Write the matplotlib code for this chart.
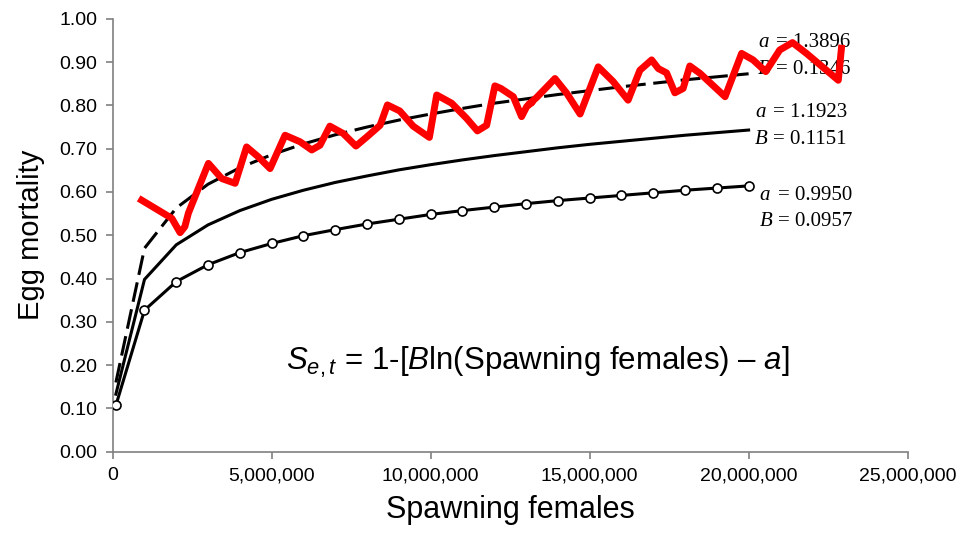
import matplotlib
matplotlib.use('Agg')
import matplotlib.pyplot as plt
import matplotlib.transforms as mtransforms
from matplotlib.ticker import FuncFormatter, MultipleLocator

plt.rcParams['font.family'] = ['Liberation Sans', 'DejaVu Sans']
plt.rcParams['mathtext.fontset'] = 'custom'
plt.rcParams['mathtext.rm'] = 'Liberation Sans'
plt.rcParams['mathtext.it'] = 'Liberation Sans:italic'

# fitted curves, spawning females in millions
fit_x = [0.1, 1, 2, 3, 4, 5, 6, 7, 8, 9, 10, 11, 12, 13, 14, 15, 16, 17, 18, 19, 20]
dashed_y = [0.160, 0.470, 0.563, 0.618, 0.656, 0.686, 0.711, 0.732, 0.750, 0.766, 0.780,
            0.793, 0.805, 0.815, 0.825, 0.834, 0.843, 0.851, 0.859, 0.866, 0.873]
solid_y = [0.133, 0.398, 0.478, 0.524, 0.557, 0.583, 0.604, 0.622, 0.637, 0.651, 0.663,
           0.674, 0.684, 0.693, 0.702, 0.710, 0.717, 0.724, 0.731, 0.737, 0.743]
circle_y = [0.107, 0.327, 0.393, 0.432, 0.460, 0.481, 0.499, 0.513, 0.526, 0.537, 0.548,
            0.557, 0.565, 0.573, 0.580, 0.586, 0.592, 0.598, 0.604, 0.609, 0.614]

# observed (red) series
red_x = [0.91, 1.59, 1.86, 2.12, 2.27, 2.38, 3.01, 3.43, 3.85, 4.21, 4.58, 4.95, 5.42, 5.89,
         6.26, 6.52, 6.83, 7.25, 7.65, 7.99, 8.41, 8.64, 9.03, 9.45, 9.96, 10.19, 10.66, 11.13,
         11.47, 11.76, 12.02, 12.21, 12.60, 12.86, 13.02, 13.20, 13.08, 13.33, 13.91, 14.28,
         14.70, 15.27, 15.74, 16.21, 16.58, 16.95, 17.16, 17.42, 17.68, 17.94, 18.15, 18.47,
         19.26, 19.78, 20.14, 20.54, 20.98, 21.38, 21.82, 22.82, 22.92]
red_y = [0.581, 0.551, 0.539, 0.506, 0.520, 0.551, 0.666, 0.631, 0.620, 0.704, 0.681, 0.654,
         0.731, 0.716, 0.697, 0.708, 0.752, 0.735, 0.706, 0.727, 0.754, 0.801, 0.787, 0.752,
         0.726, 0.824, 0.805, 0.770, 0.741, 0.754, 0.845, 0.839, 0.820, 0.774, 0.797, 0.808,
         0.802, 0.818, 0.862, 0.828, 0.780, 0.889, 0.855, 0.812, 0.881, 0.905, 0.885, 0.875,
         0.829, 0.839, 0.891, 0.874, 0.820, 0.920, 0.905, 0.878, 0.928, 0.945, 0.920, 0.858,
         0.932]

params = [('1.3896', '0.1346'), ('1.1923', '0.1151'), ('0.9950', '0.0957')]
param_pos = [(20.3, 0.945, 0.883), (20.2, 0.783, 0.722), (20.35, 0.592, 0.531)]

fig = plt.figure(figsize=(9.6, 5.41), dpi=100)
ax = fig.add_axes([0.1174, 0.165, 0.828, 0.8003])

M = 1e6
fx = [v * M for v in fit_x]
ax.plot(fx, dashed_y, color='black', lw=2.2, dashes=(6.5, 2.5), zorder=3)
ax.plot(fx, solid_y, color='black', lw=2.2, zorder=3)
ax.plot(fx, circle_y, color='black', lw=2.2, marker='o', ms=6.5, mfc='white',
        mec='black', mew=1.2, zorder=3)
ax.plot([v * M for v in red_x], red_y, color='#ff0000', lw=5,
        solid_joinstyle='round', zorder=5)

# parameter labels
for (a_txt, b_txt), (px, ya, yb) in zip(params, param_pos):
    for letter, val, yy in (('a', a_txt, ya), ('B', b_txt, yb)):
        ax.text(px * M, yy, letter, family='Liberation Serif', style='italic',
                fontsize=15, va='center', ha='left', zorder=4)
        tr = mtransforms.offset_copy(ax.transData, fig=fig, x=13, y=0, units='points')
        ax.text(px * M, yy, '= ' + val, family='Liberation Serif', fontsize=15,
                va='center', ha='left', transform=tr, zorder=4)

ax.text(5.45 * M, 0.207, r'$S_{e,t}$ = 1-[$B$ln(Spawning females) – $a$]',
        fontsize=22.5, va='center', ha='left')

ax.set_xlim(0, 25 * M)
ax.set_ylim(0, 1.0)
ax.xaxis.set_major_locator(MultipleLocator(5 * M))
ax.yaxis.set_major_locator(MultipleLocator(0.1))
ax.xaxis.set_major_formatter(FuncFormatter(lambda v, p: '{:,.0f}'.format(v)))
ax.yaxis.set_major_formatter(FuncFormatter(lambda v, p: '{:.2f}'.format(v)))

for s in ['top', 'right']:
    ax.spines[s].set_visible(False)
for s in ['left', 'bottom']:
    ax.spines[s].set_color('#808080')
    ax.spines[s].set_linewidth(1.2)
ax.tick_params(direction='out', length=5, width=1.2, color='#808080',
               labelsize=14, pad=6)

ax.set_xlabel('Spawning females', fontsize=22, labelpad=8)
ax.set_ylabel('Egg mortality', fontsize=21, labelpad=10)

fig.savefig('out.png', dpi=100)
